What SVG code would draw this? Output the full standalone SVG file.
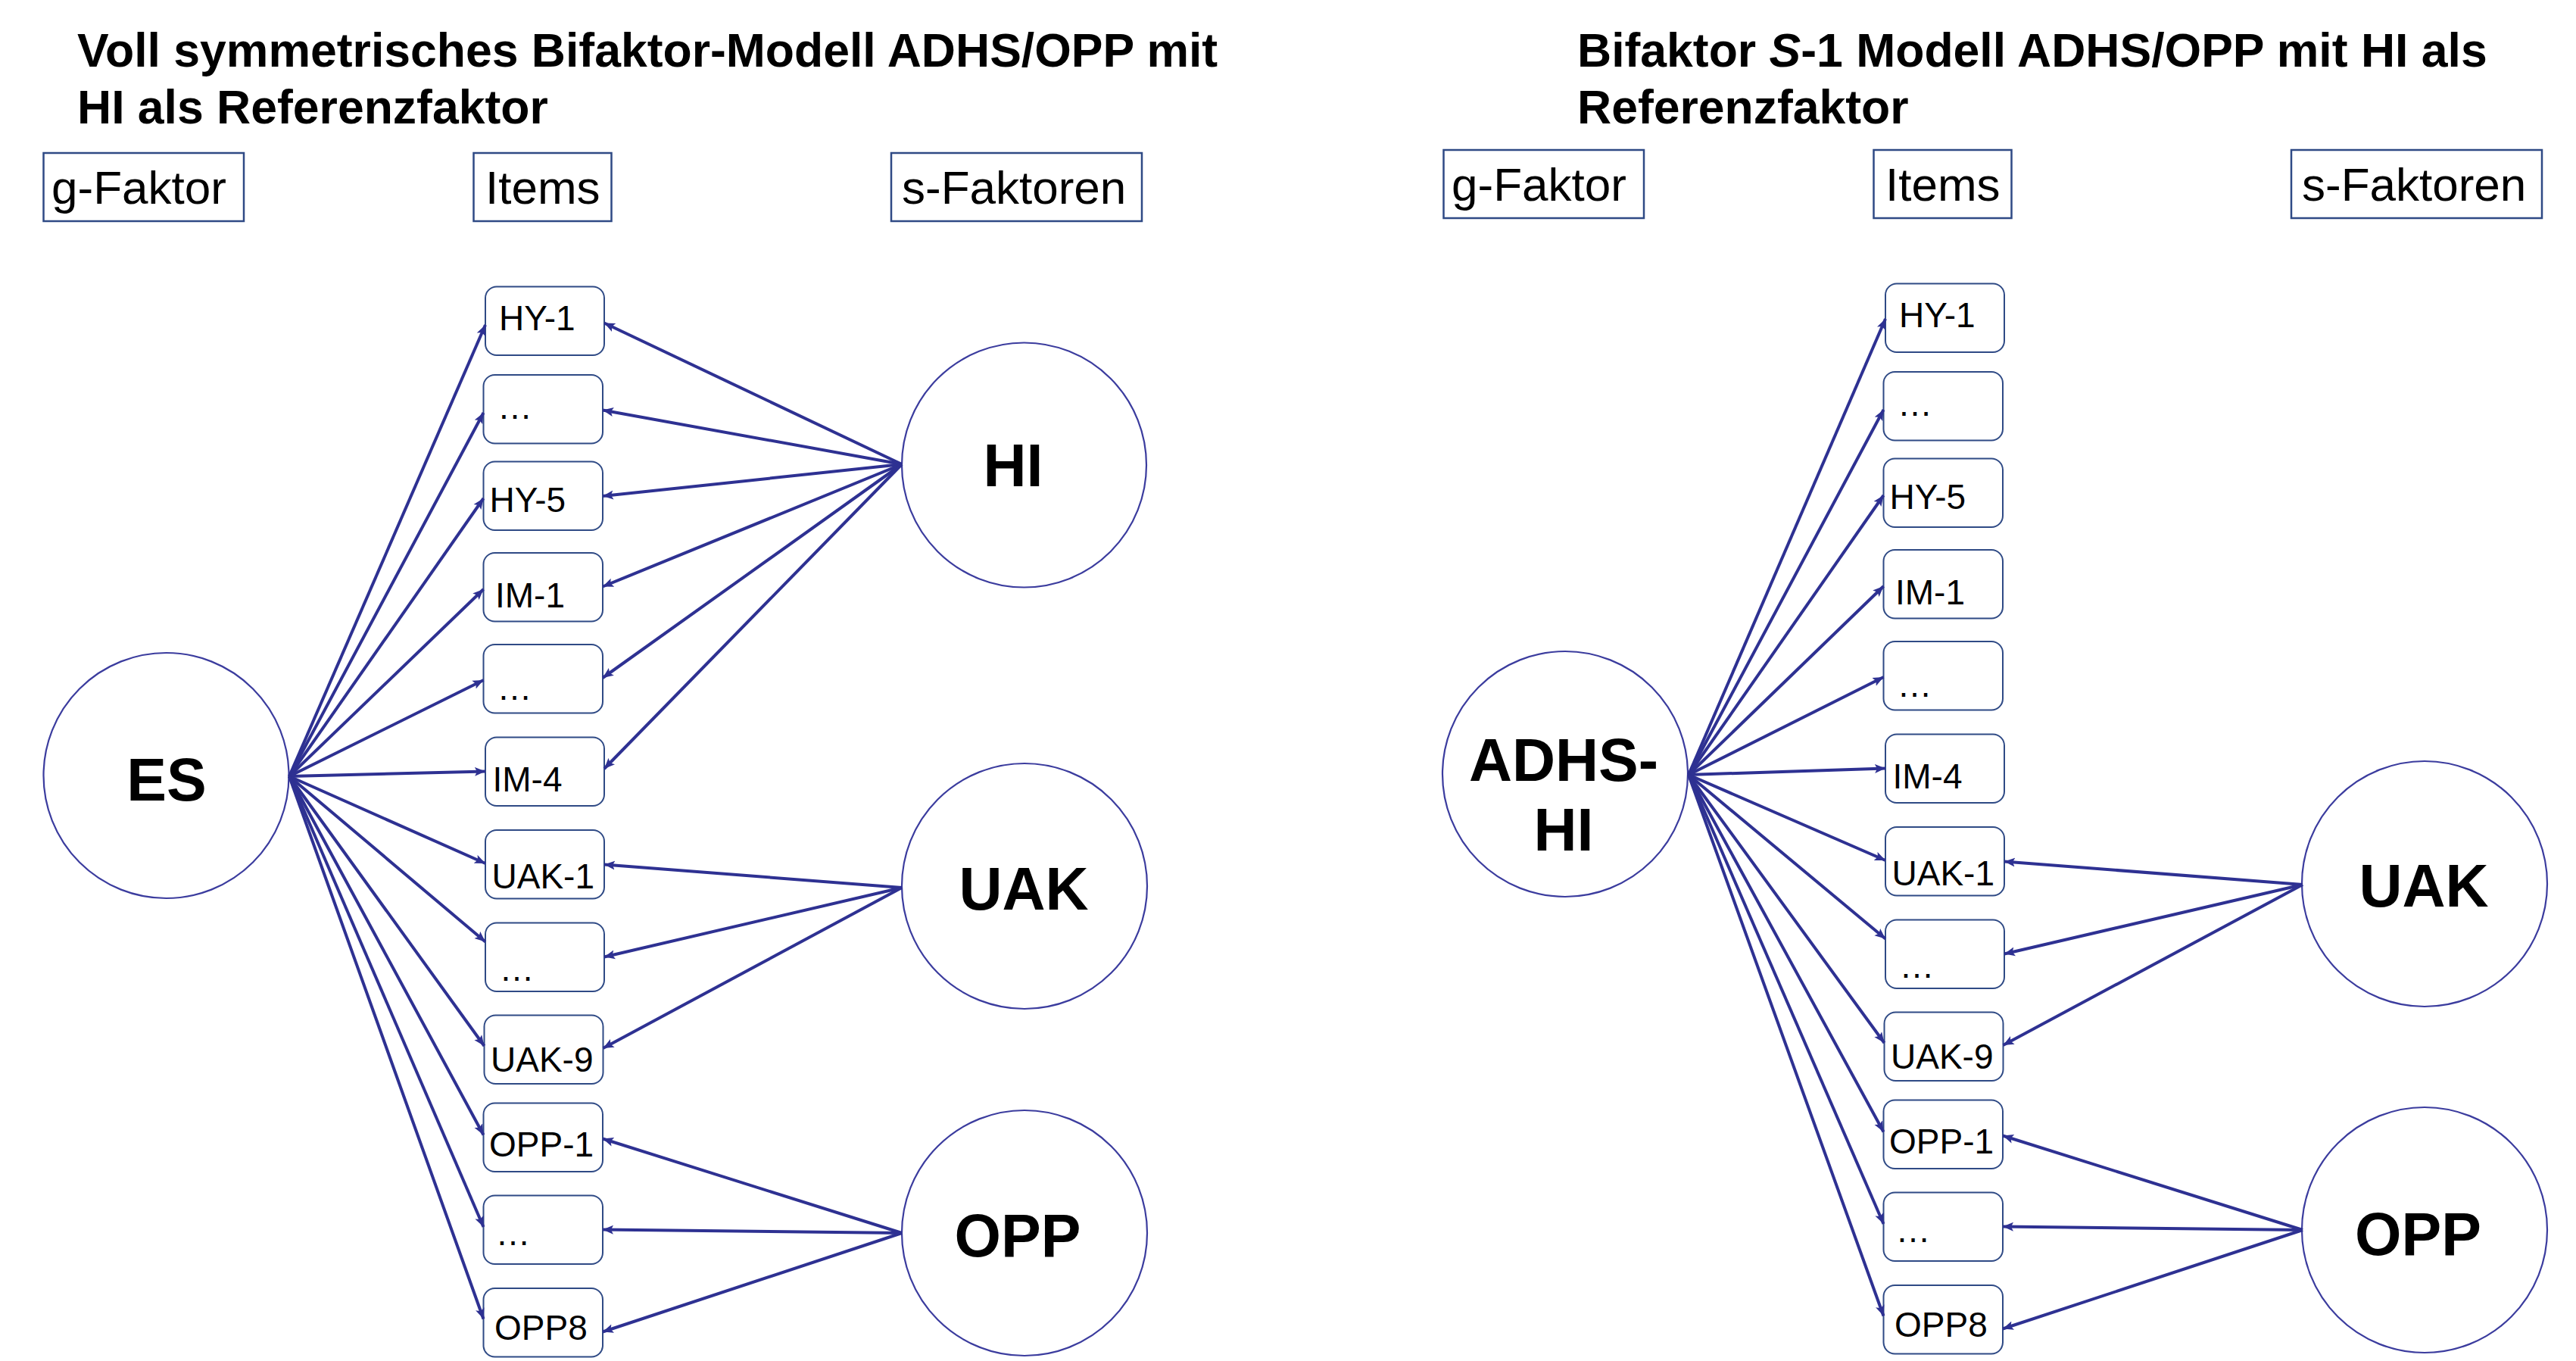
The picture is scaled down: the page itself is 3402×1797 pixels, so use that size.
<svg xmlns="http://www.w3.org/2000/svg" width="3402" height="1797" viewBox="0 0 3402 1797">
<defs>
<style>
text{font-family:"Liberation Sans",Arial,"Helvetica",sans-serif;fill:#000}
.ttl{font-size:62.5px;font-weight:bold}
.hdt{font-size:62px}
.hdr{fill:#fff;stroke:#2F4A85;stroke-width:2.5}
.box{fill:#fff;stroke:#2F4A85;stroke-width:2}
.lat{fill:#fff;stroke:#3B3C9E;stroke-width:2.2}
.it{font-size:46px}
.lab{font-size:79px;font-weight:bold;text-anchor:middle}
.con line{stroke:#2E3192;stroke-width:4;fill:none;marker-end:url(#ah)}
</style>
<marker id="ah" markerUnits="userSpaceOnUse" markerWidth="15" markerHeight="13" refX="14" refY="6.5" orient="auto">
<path d="M0,0.5 L14,6.5 L0,12.5 L3,6.5 z" fill="#2E3192"/>
</marker>
</defs>
<rect width="3402" height="1797" fill="#fff"/>

<!-- Titles -->
<g id="title-left">
<text class="ttl" x="102" y="88">Voll symmetrisches Bifaktor-Modell ADHS/OPP mit</text>
<text class="ttl" x="102" y="163">HI als Referenzfaktor</text>
</g>
<g id="title-right">
<text class="ttl" x="2083" y="88">Bifaktor <tspan font-style="italic">S</tspan>-1 Modell ADHS/OPP mit HI als</text>
<text class="ttl" x="2083" y="163">Referenzfaktor</text>
</g>

<!-- LEFT DIAGRAM -->
<g id="left">
<g id="L-hdr-g"><rect class="hdr" x="57.5" y="202" width="264.5" height="90"/><text class="hdt" x="68" y="269">g-Faktor</text></g>
<g id="L-hdr-items"><rect class="hdr" x="625.5" y="202" width="182" height="90"/><text class="hdt" x="641" y="269">Items</text></g>
<g id="L-hdr-s"><rect class="hdr" x="1177" y="202" width="331" height="90"/><text class="hdt" x="1191" y="269">s-Faktoren</text></g>

<g id="L-ES"><circle class="lat" cx="219.5" cy="1024" r="162"/><text class="lab" x="220" y="1057">ES</text></g>
<g id="L-HI"><circle class="lat" cx="1352.5" cy="614" r="161.5"/><text class="lab" x="1338" y="642">HI</text></g>
<g id="L-UAK"><circle class="lat" cx="1353" cy="1170" r="162"/><text class="lab" x="1352" y="1201">UAK</text></g>
<g id="L-OPP"><circle class="lat" cx="1353" cy="1628" r="162"/><text class="lab" x="1344" y="1659">OPP</text></g>

<g id="L-HY1"><rect class="box" x="641" y="378.5" width="157" height="90.5" rx="15"/><text class="it" x="659" y="436">HY-1</text></g>
<g id="L-D1"><rect class="box" x="638.5" y="495" width="157.5" height="90.5" rx="15"/><text class="it" x="657" y="553">…</text></g>
<g id="L-HY5"><rect class="box" x="638.5" y="609.5" width="157.5" height="90.5" rx="15"/><text class="it" x="646.5" y="676">HY-5</text></g>
<g id="L-IM1"><rect class="box" x="638.5" y="730" width="157.5" height="90.5" rx="15"/><text class="it" x="654" y="801.5">IM-1</text></g>
<g id="L-D2"><rect class="box" x="638.5" y="851" width="157.5" height="90.5" rx="15"/><text class="it" x="656.5" y="923.5">…</text></g>
<g id="L-IM4"><rect class="box" x="641" y="973.5" width="157" height="90.5" rx="15"/><text class="it" x="650.5" y="1045">IM-4</text></g>
<g id="L-UAK1"><rect class="box" x="641" y="1096" width="157" height="90.5" rx="15"/><text class="it" x="649.5" y="1172.5">UAK-1</text></g>
<g id="L-D3"><rect class="box" x="641" y="1218.5" width="157" height="90.5" rx="15"/><text class="it" x="659.5" y="1295">…</text></g>
<g id="L-UAK9"><rect class="box" x="639.5" y="1340.5" width="157" height="90.5" rx="15"/><text class="it" x="648" y="1415">UAK-9</text></g>
<g id="L-OPP1"><rect class="box" x="638.5" y="1456.5" width="157.5" height="90.5" rx="15"/><text class="it" x="646" y="1526.5">OPP-1</text></g>
<g id="L-D4"><rect class="box" x="638.5" y="1578.5" width="157.5" height="90.5" rx="15"/><text class="it" x="654.5" y="1644">…</text></g>
<g id="L-OPP8"><rect class="box" x="638.5" y="1701" width="157.5" height="90.5" rx="15"/><text class="it" x="653" y="1768.5">OPP8</text></g>

<g id="L-connectors" class="con">
<line x1="382" y1="1025" x2="641" y2="429"/>
<line x1="382" y1="1025" x2="638.5" y2="545"/>
<line x1="382" y1="1025" x2="638.5" y2="658"/>
<line x1="382" y1="1025" x2="638.5" y2="778"/>
<line x1="382" y1="1025" x2="638.5" y2="898"/>
<line x1="382" y1="1025" x2="641" y2="1018.5"/>
<line x1="382" y1="1025" x2="641" y2="1140"/>
<line x1="382" y1="1025" x2="641" y2="1243.5"/>
<line x1="382" y1="1025" x2="639.5" y2="1381"/>
<line x1="382" y1="1025" x2="638.5" y2="1498.5"/>
<line x1="382" y1="1025" x2="638.5" y2="1620"/>
<line x1="382" y1="1025" x2="638.5" y2="1741.5"/>
<line x1="1191" y1="613" x2="798" y2="426.5"/>
<line x1="1191" y1="613" x2="796" y2="541.5"/>
<line x1="1191" y1="613" x2="796" y2="655"/>
<line x1="1191" y1="613" x2="796" y2="774.5"/>
<line x1="1191" y1="613" x2="796" y2="895"/>
<line x1="1191" y1="613" x2="798" y2="1015"/>
<line x1="1191" y1="1172" x2="798" y2="1141.5"/>
<line x1="1191" y1="1172" x2="798" y2="1263.5"/>
<line x1="1191" y1="1172" x2="796.5" y2="1384"/>
<line x1="1191" y1="1628" x2="796" y2="1503.5"/>
<line x1="1191" y1="1628" x2="796" y2="1623.5"/>
<line x1="1191" y1="1628" x2="796" y2="1758.5"/>
</g>
</g>

<!-- RIGHT DIAGRAM -->
<g id="right" transform="translate(1849,-4)">
<g id="R-hdr-g"><rect class="hdr" x="57.5" y="202" width="264.5" height="90"/><text class="hdt" x="68" y="269">g-Faktor</text></g>
<g id="R-hdr-items"><rect class="hdr" x="625.5" y="202" width="182" height="90"/><text class="hdt" x="641" y="269">Items</text></g>
<g id="R-hdr-s"><rect class="hdr" x="1177" y="202" width="331" height="90"/><text class="hdt" x="1191" y="269">s-Faktoren</text></g>

<g id="R-ADHSHI"><circle class="lat" cx="218" cy="1026" r="162"/><text class="lab" x="216" y="1035">ADHS-</text><text class="lab" x="216" y="1127">HI</text></g>
<g id="R-UAK"><circle class="lat" cx="1353" cy="1171" r="162"/><text class="lab" x="1352" y="1201">UAK</text></g>
<g id="R-OPP"><circle class="lat" cx="1353" cy="1628" r="162"/><text class="lab" x="1344.5" y="1661">OPP</text></g>

<g id="R-HY1"><rect class="box" x="641" y="378.5" width="157" height="90.5" rx="15"/><text class="it" x="659" y="436">HY-1</text></g>
<g id="R-D1"><rect class="box" x="638.5" y="495" width="157.5" height="90.5" rx="15"/><text class="it" x="657" y="553">…</text></g>
<g id="R-HY5"><rect class="box" x="638.5" y="609.5" width="157.5" height="90.5" rx="15"/><text class="it" x="646.5" y="676">HY-5</text></g>
<g id="R-IM1"><rect class="box" x="638.5" y="730" width="157.5" height="90.5" rx="15"/><text class="it" x="654" y="801.5">IM-1</text></g>
<g id="R-D2"><rect class="box" x="638.5" y="851" width="157.5" height="90.5" rx="15"/><text class="it" x="656.5" y="923.5">…</text></g>
<g id="R-IM4"><rect class="box" x="641" y="973.5" width="157" height="90.5" rx="15"/><text class="it" x="650.5" y="1045">IM-4</text></g>
<g id="R-UAK1"><rect class="box" x="641" y="1096" width="157" height="90.5" rx="15"/><text class="it" x="649.5" y="1172.5">UAK-1</text></g>
<g id="R-D3"><rect class="box" x="641" y="1218.5" width="157" height="90.5" rx="15"/><text class="it" x="659.5" y="1295">…</text></g>
<g id="R-UAK9"><rect class="box" x="639.5" y="1340.5" width="157" height="90.5" rx="15"/><text class="it" x="648" y="1415">UAK-9</text></g>
<g id="R-OPP1"><rect class="box" x="638.5" y="1456.5" width="157.5" height="90.5" rx="15"/><text class="it" x="646" y="1526.5">OPP-1</text></g>
<g id="R-D4"><rect class="box" x="638.5" y="1578.5" width="157.5" height="90.5" rx="15"/><text class="it" x="654.5" y="1644">…</text></g>
<g id="R-OPP8"><rect class="box" x="638.5" y="1701" width="157.5" height="90.5" rx="15"/><text class="it" x="653" y="1768.5">OPP8</text></g>

<g id="R-connectors" class="con">
<line x1="381" y1="1027" x2="641" y2="425"/>
<line x1="381" y1="1027" x2="638.5" y2="545"/>
<line x1="381" y1="1027" x2="638.5" y2="658"/>
<line x1="381" y1="1027" x2="638.5" y2="778"/>
<line x1="381" y1="1027" x2="638.5" y2="898"/>
<line x1="381" y1="1027" x2="641" y2="1018.5"/>
<line x1="381" y1="1027" x2="641" y2="1140"/>
<line x1="381" y1="1027" x2="641" y2="1243.5"/>
<line x1="381" y1="1027" x2="639.5" y2="1381"/>
<line x1="381" y1="1027" x2="638.5" y2="1498.5"/>
<line x1="381" y1="1027" x2="638.5" y2="1620"/>
<line x1="381" y1="1027" x2="638.5" y2="1741.5"/>
<line x1="1192" y1="1172" x2="798" y2="1141.5"/>
<line x1="1192" y1="1172" x2="798" y2="1263.5"/>
<line x1="1192" y1="1172" x2="796.5" y2="1384"/>
<line x1="1192" y1="1628" x2="796" y2="1503.5"/>
<line x1="1192" y1="1628" x2="796" y2="1623.5"/>
<line x1="1192" y1="1628" x2="796" y2="1758.5"/>
</g>
</g>
</svg>
